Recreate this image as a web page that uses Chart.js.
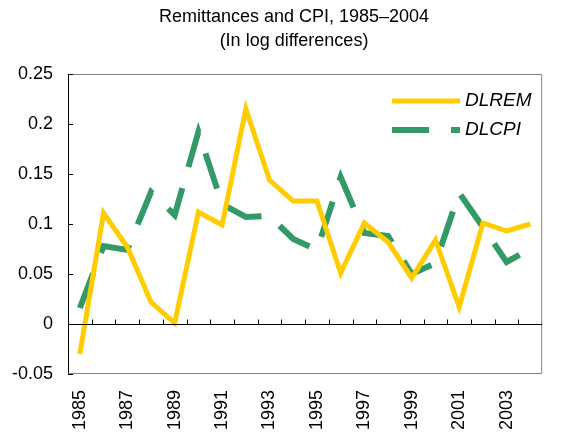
<!DOCTYPE html>
<html>
<head>
<meta charset="utf-8">
<script src="https://cdn.jsdelivr.net/npm/chart.js@4"></script>
<style>
  html, body { margin: 0; padding: 0; background: #fff; }
  #wrap { width: 568px; height: 432px; }
</style>
</head>
<body>
<div id="wrap"><canvas id="remChart"></canvas></div>
<script>
// data
const years = ['1985', '1986', '1987', '1988', '1989', '1990', '1991', '1992', '1993', '1994',
               '1995', '1996', '1997', '1998', '1999', '2000', '2001', '2002', '2003', '2004'];
const dlrem = [-0.030, 0.111, 0.077, 0.022, 0.001, 0.112, 0.099, 0.215, 0.144, 0.123,
               0.123, 0.051, 0.101, 0.082, 0.046, 0.084, 0.017, 0.101, 0.093, 0.100];
const dlcpi = [0.016, 0.078, 0.074, 0.132, 0.109, 0.192, 0.120, 0.107, 0.108, 0.085,
               0.074, 0.147, 0.091, 0.088, 0.050, 0.061, 0.131, 0.097, 0.062, 0.075];
const yTicks = [-0.05, 0, 0.05, 0.1, 0.15, 0.2, 0.25];
const titleLines = ['Remittances and CPI, 1985\u20132004', '(In log differences)'];

const YELLOW = '#FFCC00';
const GREEN = '#339966';
const FONT = 'Arial, "Liberation Sans", sans-serif';

// title, frame, zero line, small tick marks and the legend
const decorPlugin = {
    id: 'decor',
    afterDraw(chart) {
        const ctx = chart.ctx;
        const a = chart.chartArea;
        const x = chart.scales.x;
        const y = chart.scales.y;
        ctx.save();

        // title
        ctx.fillStyle = '#000';
        ctx.font = '18px ' + FONT;
        ctx.textAlign = 'center';
        ctx.textBaseline = 'middle';
        ctx.fillText(titleLines[0], 294, 17);
        ctx.fillText(titleLines[1], 294, 41);

        // grey frame top/right/bottom
        ctx.strokeStyle = '#808080';
        ctx.lineWidth = 1;
        ctx.beginPath();
        ctx.moveTo(a.left, a.top + 0.5);
        ctx.lineTo(a.right - 0.5, a.top + 0.5);
        ctx.lineTo(a.right - 0.5, a.bottom - 0.5);
        ctx.lineTo(a.left, a.bottom - 0.5);
        ctx.stroke();

        // zero line + ticks at category boundaries
        const y0 = Math.round(y.getPixelForValue(0)) + 0.5;
        ctx.strokeStyle = '#000';
        ctx.beginPath();
        ctx.moveTo(a.left, y0);
        ctx.lineTo(a.right, y0);
        const step = x.getPixelForValue(1) - x.getPixelForValue(0);
        for (let i = 1; i < years.length; i++) {
            const px = Math.round(x.getPixelForValue(i) - step / 2) + 0.5;
            ctx.moveTo(px, y0);
            ctx.lineTo(px, y0 - 5);
        }
        // y ticks inside the plot
        yTicks.forEach(v => {
            const py = Math.round(y.getPixelForValue(v)) + 0.5;
            ctx.moveTo(a.left, py);
            ctx.lineTo(a.left + 5, py);
        });
        ctx.stroke();

        // legend
        const lx0 = 392, lx1 = 460;
        ctx.lineCap = 'butt';
        ctx.strokeStyle = YELLOW;
        ctx.lineWidth = 5;
        ctx.beginPath();
        ctx.moveTo(lx0, 101);
        ctx.lineTo(lx1, 101);
        ctx.stroke();
        ctx.strokeStyle = GREEN;
        ctx.lineWidth = 6;
        ctx.setLineDash([37, 22]);
        ctx.beginPath();
        ctx.moveTo(lx0, 130);
        ctx.lineTo(lx1, 130);
        ctx.stroke();
        ctx.setLineDash([]);
        ctx.fillStyle = '#000';
        ctx.font = 'italic 19px ' + FONT;
        ctx.textAlign = 'left';
        ctx.fillText('DLREM', 465, 101);
        ctx.fillText('DLCPI', 465, 130);
        ctx.restore();
    }
};

const ctx = document.getElementById('remChart').getContext('2d');
new Chart(ctx, {
    type: 'line',
    data: {
        labels: years,
        datasets: [
            { label: 'DLREM', data: dlrem, borderColor: YELLOW, borderWidth: 5, pointRadius: 0, tension: 0, fill: false },
            { label: 'DLCPI', data: dlcpi, borderColor: GREEN, borderWidth: 6, borderDash: [37, 22], borderCapStyle: 'butt', pointRadius: 0, tension: 0, fill: false }
        ]
    },
    options: {
        responsive: true,
        maintainAspectRatio: false,
        animation: false,
        devicePixelRatio: 1,
        layout: { padding: { left: 0, right: 3, top: 74, bottom: 0 } },
        plugins: {
            legend: { display: false },
            tooltip: { enabled: false },
            title: { display: false }
        },
        scales: {
            x: {
                type: 'category',
                offset: true,
                grid: { display: false, drawTicks: false },
                border: { display: false },
                ticks: {
                    autoSkip: false,
                    maxRotation: 90,
                    minRotation: 90,
                    padding: 16,
                    color: '#000',
                    font: { family: FONT, size: 18 },
                    callback: function (val, i) { return i % 2 === 0 ? years[i] : ''; }
                },
                afterFit: s => { s.height = 58; }
            },
            y: {
                min: -0.05,
                max: 0.25,
                grid: { display: false, drawTicks: false },
                border: { display: true, color: '#000', width: 1 },
                ticks: {
                    stepSize: 0.05,
                    padding: 15,
                    color: '#000',
                    font: { family: FONT, size: 18 },
                    callback: v => String(parseFloat(v.toFixed(2)))
                },
                afterFit: s => { s.width = 68; }
            }
        }
    },
    plugins: [decorPlugin]
});
</script>
</body>
</html>
